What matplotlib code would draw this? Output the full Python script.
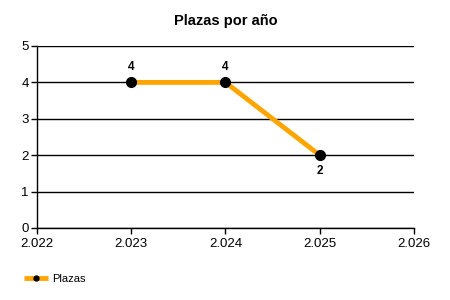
import matplotlib
matplotlib.use("Agg")
import matplotlib.pyplot as plt
from matplotlib.ticker import FuncFormatter

plt.rcParams['font.family'] = ['Liberation Sans', 'DejaVu Sans']

# datos
anios = [2023, 2024, 2025]
plazas = [4, 4, 2]
serie = "Plazas"
titulo = "Plazas por año"

fig = plt.figure(figsize=(4.5, 3), dpi=100)
ax = fig.add_axes([0.0822, 0.24, 0.8378, 0.6067])

ax.plot(anios, plazas, color='#FFA500', linewidth=3.5, marker='o',
        markersize=7, markerfacecolor='black', markeredgecolor='black',
        label=serie, zorder=3, solid_capstyle='butt')

# etiquetas de los puntos
for i, (x, y) in enumerate(zip(anios, plazas)):
    if i < len(anios) - 1:
        ax.annotate(str(y), (x, y), xytext=(0, 7), textcoords='offset points',
                    ha='center', va='bottom', fontsize=8.5, fontweight='bold')
    else:
        ax.annotate(str(y), (x, y), xytext=(0, -7), textcoords='offset points',
                    ha='center', va='top', fontsize=8.5, fontweight='bold')

ax.set_xlim(2022, 2026)
ax.set_ylim(0, 5)
ax.set_xticks([2022, 2023, 2024, 2025, 2026])
ax.set_yticks([0, 1, 2, 3, 4, 5])
ax.xaxis.set_major_formatter(FuncFormatter(lambda v, p: "{:,}".format(int(round(v))).replace(",", ".")))

ax.grid(axis='y', color='black', linewidth=1)
ax.set_axisbelow(True)
for s in ['top', 'right']:
    ax.spines[s].set_visible(False)
for s in ['left', 'bottom']:
    ax.spines[s].set_color('black')
    ax.spines[s].set_linewidth(1)
ax.tick_params(axis='both', length=4, width=1, labelsize=9.5, pad=2, colors='black')
ax.tick_params(axis='x', pad=3)

ax.set_title(titulo, fontsize=10.5, fontweight='bold', pad=15)

fig.legend(loc='lower left', bbox_to_anchor=(0.03, 0.02), frameon=False,
           fontsize=8, handlelength=2.2, handletextpad=0.4, markerscale=0.5)

fig.savefig("out.png", dpi=100)
